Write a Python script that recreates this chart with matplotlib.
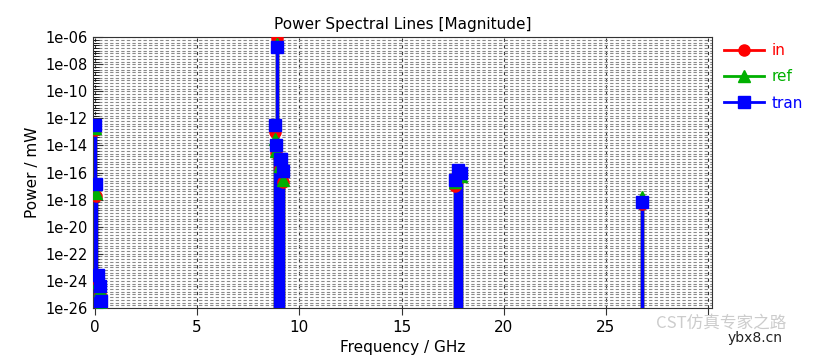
import matplotlib
matplotlib.use("Agg")
import matplotlib.pyplot as plt
from matplotlib.lines import Line2D
from matplotlib.ticker import NullFormatter, FixedLocator

# spectral lines, frequency in GHz, power in mW
freq = [0.00, 0.06, 0.15, 0.25, 0.32, 8.80, 8.86, 8.92, 9.04, 9.12, 9.18,
        17.62, 17.78, 17.92, 26.75]
p_in = [1.5e-13, 2e-18, 5e-25, 1e-25, 1e-26, 1e-13, 3e-15, 9e-07, 2e-16,
        4e-16, 2e-17, 1e-17, 8e-17, 5e-17, 5e-19]
p_ref = [2e-13, 3e-18, 8e-25, 2e-25, 2e-26, 3e-14, 4e-15, 3e-07, 3e-16,
         5e-16, 3e-17, 2e-17, 1e-16, 6e-17, 1.5e-18]
p_tran = [3e-13, 1.5e-17, 2.5e-24, 4e-25, 3e-26, 3e-13, 1e-14, 2e-07, 1e-15,
          1e-15, 1.2e-16, 3e-17, 1.5e-16, 1e-16, 7e-19]

series = [("in", p_in, "#ff0000", "o"),
          ("ref", p_ref, "#00b000", "^"),
          ("tran", p_tran, "#0000ff", "s")]

ymin, ymax = 1e-26, 1e-6
major_exp = list(range(-26, -5, 2))

fig = plt.figure(figsize=(8.36, 3.64), dpi=100)
ax = fig.add_axes([0.111, 0.154, 0.741, 0.744])

ax.set_yscale("log")
ax.set_xlim(-0.1, 30.2)
ax.set_ylim(ymin, ymax)

for name, vals, col, mk in series:
    ax.vlines(freq, ymin, vals, color=col, lw=2.5, zorder=3)
    ax.plot(freq, vals, ls="none", marker=mk, ms=8, color=col, zorder=4)

ax.set_xticks([0, 5, 10, 15, 20, 25, 30])
ax.set_xticklabels(["0", "5", "10", "15", "20", "25", ""])
ax.yaxis.set_major_locator(FixedLocator([10.0 ** e for e in major_exp]))
ax.set_yticklabels(["1e-%02d" % (-e) for e in major_exp])
# CST style: evenly spaced minor lines, 5 per decade
minor = [10.0 ** (-26 + 0.2 * i) for i in range(101) if i % 10 != 0]
ax.yaxis.set_minor_locator(FixedLocator(minor))
ax.yaxis.set_minor_formatter(NullFormatter())

ax.grid(True, which="major", axis="x", color="#333333", ls=(0, (3, 3)), lw=0.8)
ax.grid(True, which="both", axis="y", color="#8a8a8a", ls=(0, (3, 2)), lw=0.8)

ax.tick_params(axis="x", direction="out", labelsize=11, length=5, color="#333333")
ax.tick_params(axis="y", direction="in", labelsize=10.5, length=7, color="#333333")
ax.tick_params(axis="y", which="minor", direction="in", length=4)
for s in ax.spines.values():
    s.set_color("#333333")

ax.set_title("Power Spectral Lines [Magnitude]", fontsize=11)
ax.set_xlabel("Frequency / GHz", fontsize=11)
ax.set_ylabel("Power / mW", fontsize=11)

handles = [Line2D([0], [0], color=c, marker=m, ms=8, lw=2) for _, _, c, m in series]
leg = fig.legend(handles, [s[0] for s in series], loc="upper left",
                 bbox_to_anchor=(0.85, 0.92), frameon=False, fontsize=11,
                 handlelength=2.6, labelspacing=0.75, handletextpad=0.5)
for t, (_, _, c, _) in zip(leg.get_texts(), series):
    t.set_color(c)

# watermark
fig.text(0.785, 0.10, "CST仿真专家之路", fontsize=12, color="#cccccc",
         family=["Noto Sans CJK SC", "DejaVu Sans"])
fig.text(0.87, 0.06, "ybx8.cn", fontsize=10, color="#222222")

fig.savefig("out.png", dpi=100)
